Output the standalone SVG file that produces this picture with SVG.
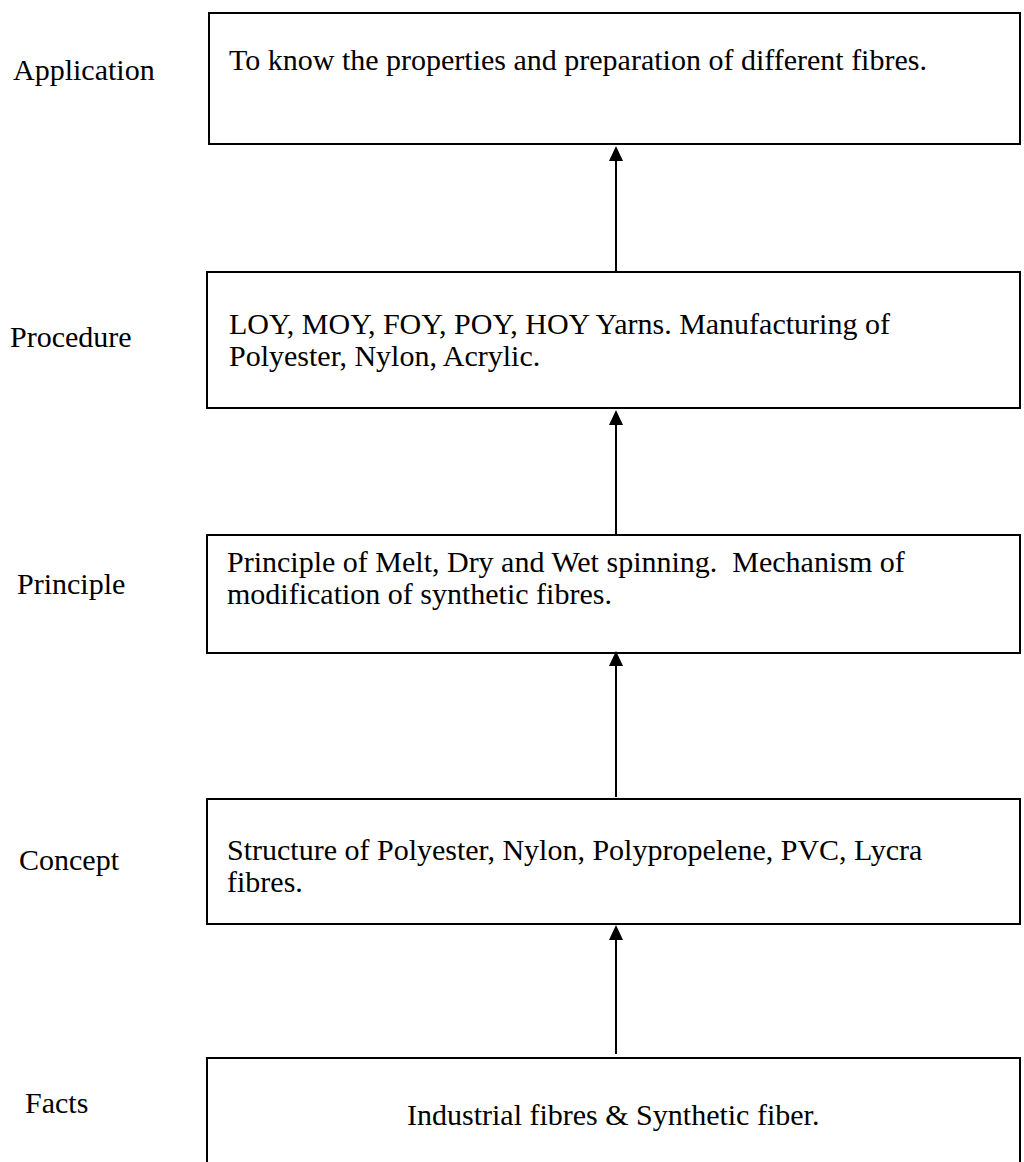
<svg xmlns="http://www.w3.org/2000/svg" width="1024" height="1162" viewBox="0 0 1024 1162">
<style>
text{font-family:"Liberation Serif","Times New Roman",serif;font-size:30px;fill:#000}
.box{fill:#fff;stroke:#000;stroke-width:2}
.conn{stroke:#000;stroke-width:2;fill:none}
</style>
<defs>
<marker id="ah" markerWidth="15" markerHeight="14" refX="0" refY="7" orient="auto" markerUnits="userSpaceOnUse" viewBox="0 0 15 14">
<path d="M0,0 L15,7 L0,14 Z" fill="#000"/>
</marker>
</defs>
<rect width="1024" height="1162" fill="#fff"/>
<g id="labels">
<text x="13" y="80">Application</text>
<text x="10" y="347">Procedure</text>
<text x="17" y="594">Principle</text>
<text x="19" y="870">Concept</text>
<text x="25" y="1113">Facts</text>
</g>
<g id="node-application">
<rect class="box" x="209" y="13" width="811" height="131"/>
<text x="229" y="70">To know the properties and preparation of different fibres.</text>
</g>
<g id="node-procedure">
<rect class="box" x="207" y="272" width="813" height="136"/>
<text x="229" y="334">LOY, MOY, FOY, POY, HOY Yarns. Manufacturing of</text>
<text x="229" y="366">Polyester, Nylon, Acrylic.</text>
</g>
<g id="node-principle">
<rect class="box" x="207" y="535" width="813" height="118"/>
<text x="227" y="572" xml:space="preserve">Principle of Melt, Dry and Wet spinning.  Mechanism of</text>
<text x="227" y="604">modification of synthetic fibres.</text>
</g>
<g id="node-concept">
<rect class="box" x="207" y="799" width="813" height="125"/>
<text x="227" y="860">Structure of Polyester, Nylon, Polypropelene, PVC, Lycra</text>
<text x="227" y="892">fibres.</text>
</g>
<g id="node-facts">
<rect class="box" x="207" y="1058" width="813" height="140"/>
<text x="407" y="1125">Industrial fibres &amp; Synthetic fiber.</text>
</g>
<g id="connectors">
<line class="conn" x1="616" y1="271" x2="616" y2="161" marker-end="url(#ah)"/>
<line class="conn" x1="616" y1="534" x2="616" y2="425" marker-end="url(#ah)"/>
<line class="conn" x1="616" y1="797" x2="616" y2="666" marker-end="url(#ah)"/>
<line class="conn" x1="616" y1="1054" x2="616" y2="940" marker-end="url(#ah)"/>
</g>
</svg>
